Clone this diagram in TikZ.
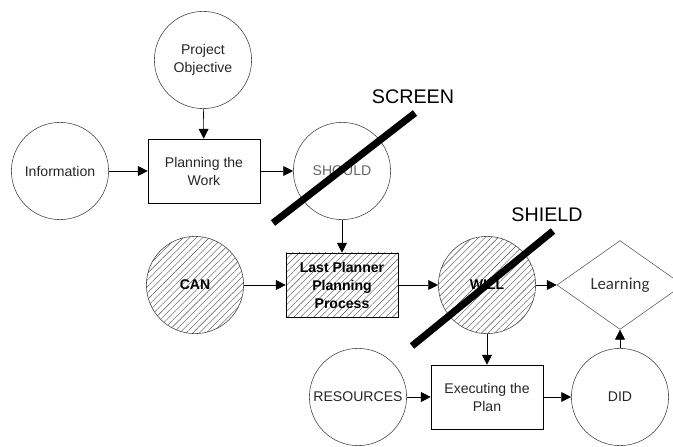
\documentclass[tikz,border=0pt]{standalone}
\usepackage{fontspec}
\setmainfont{Liberation Sans}
\newfontfamily\learnfont{Carlito}
\usetikzlibrary{arrows.meta,patterns.meta,shapes.geometric}

\begin{document}
\begin{tikzpicture}[x=.025cm,y=-.025cm,line width=.4pt,font=\fontsize{10}{12.8}\selectfont,
  circ/.style={circle,draw=black!75,minimum size=2.43cm,inner sep=0pt,align=center,text=black!85},
  box/.style={rectangle,draw,minimum width=2.8cm,minimum height=1.6cm,inner sep=0pt,align=center,text=black!85},
  hatch/.style={pattern={Lines[angle=45,distance=3.3pt,line width=.3pt]},pattern color=black!70,
    font=\fontsize{10}{12.8}\selectfont\bfseries,text=black},
  arr/.style={-{Triangle[length=7pt,width=7pt]}},
  bar/.style={line width=5pt},
  tag/.style={font=\fontsize{14}{16}\selectfont}]
\useasboundingbox (0,0) rectangle (673,447);
\node[circ] (obj) at (203,60) {Project\\Objective};
\node[circ] (info) at (60,171) {Information};
\node[box] (plan) at (204,171) {Planning the\\Work};
\node[circ,text=black!60] (should) at (342,171) {SHOULD};
\node[circ,hatch] (can) at (195,285) {CAN};
\node[box,hatch] (lpp) at (342,285) {Last Planner\\Planning\\Process};
\node[circ,hatch] (will) at (487,285) {WILL};
\node[diamond,draw=black!65,minimum width=3.15cm,minimum height=2.22cm,inner sep=0pt,font=\learnfont\fontsize{12}{14}\selectfont,text=black!80] (learn) at (620,285) {Learning};
\node[circ] (res) at (358,397) {RESOURCES};
\node[box] (exec) at (487,397) {Executing the\\Plan};
\node[circ] (did) at (620,397) {DID};
\draw[arr] (obj) -- (plan);
\draw[arr] (info) -- (plan);
\draw[arr] (plan) -- (should);
\draw[arr] (should) -- (lpp);
\draw[arr] (can) -- (lpp);
\draw[arr] (lpp) -- (will);
\draw[arr] (will) -- (learn);
\draw[arr] (will) -- (exec);
\draw[arr] (res) -- (exec);
\draw[arr] (exec) -- (did);
\draw[arr] (did) -- (learn);
\draw[bar] (273,223) -- (415,113);
\draw[bar] (412,346) -- (553,231);
\node[tag] (screen) at (413,97) {SCREEN};
\node[tag] (shield) at (547,215) {SHIELD};
\end{tikzpicture}
\end{document}
